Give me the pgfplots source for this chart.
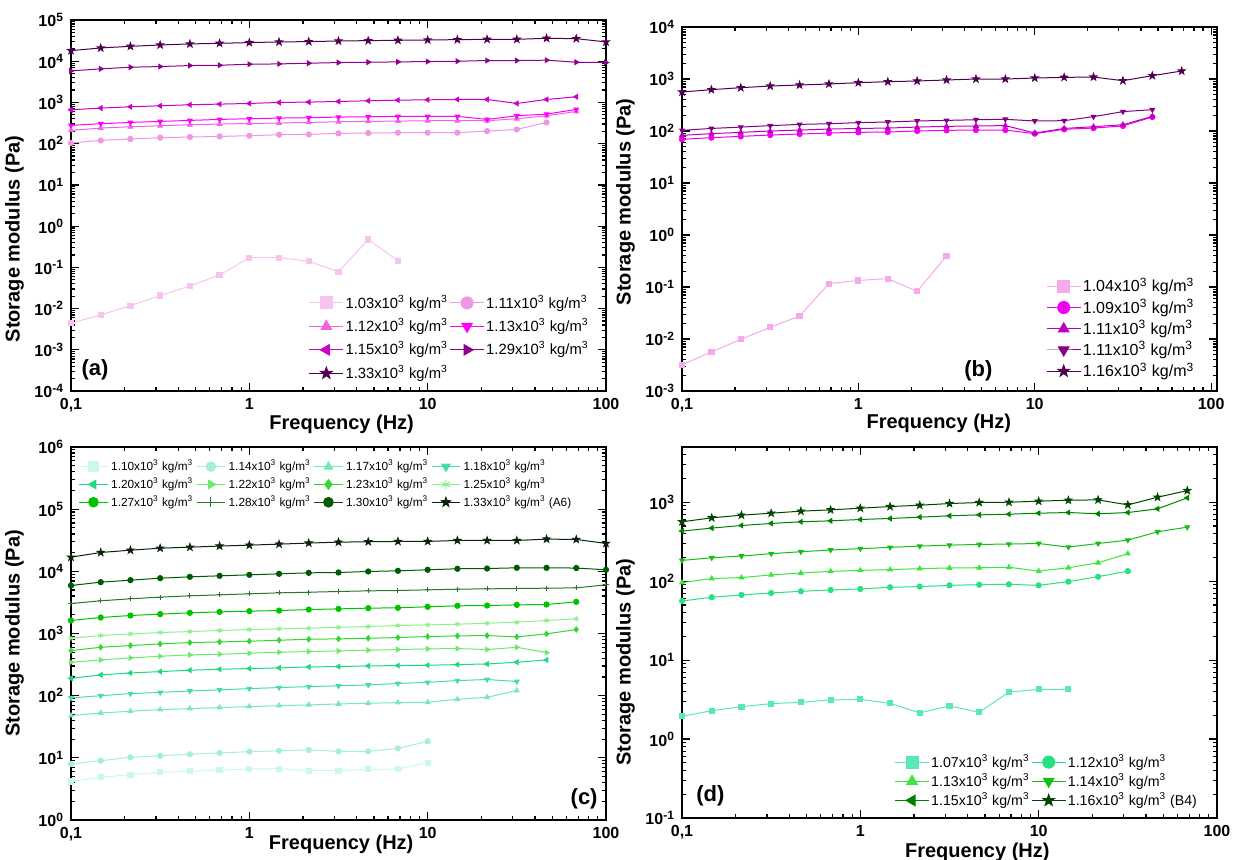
\documentclass[border=0pt]{standalone}
\usepackage{fontspec}
\setmainfont{Liberation Sans}
\usepackage{pgfplots}
\usepackage{pgfplotstable}
\pgfplotsset{compat=1.18}
\usetikzlibrary{plotmarks}

% panel (a)
\definecolor{pA103}{RGB}{246,196,238}
\definecolor{pA111}{RGB}{240,150,228}
\definecolor{pA112}{RGB}{238,100,226}
\definecolor{pA113}{RGB}{255,0,255}
\definecolor{pA115}{RGB}{200,0,200}
\definecolor{pA129}{RGB}{140,0,140}
\definecolor{pA133}{RGB}{80,0,80}
% panel (b)
\definecolor{pB104}{RGB}{246,170,236}
\definecolor{pB109}{RGB}{240,0,240}
\definecolor{pB111u}{RGB}{190,0,190}
\definecolor{pB111d}{RGB}{130,0,130}
\definecolor{pB116}{RGB}{80,0,80}
% panel (c)
\definecolor{gC110}{RGB}{200,250,228}
\definecolor{gC114}{RGB}{165,240,210}
\definecolor{gC117}{RGB}{120,232,180}
\definecolor{gC118}{RGB}{70,222,160}
\definecolor{gC120}{RGB}{30,215,130}
\definecolor{gC122}{RGB}{110,232,110}
\definecolor{gC123}{RGB}{50,215,50}
\definecolor{gC125}{RGB}{140,240,140}
\definecolor{gC127}{RGB}{0,195,0}
\definecolor{gC128}{RGB}{40,120,40}
\definecolor{gC130}{RGB}{0,90,0}
\definecolor{gC133}{RGB}{10,35,10}
% panel (d)
\definecolor{gD107}{RGB}{90,232,180}
\definecolor{gD112}{RGB}{40,225,130}
\definecolor{gD113}{RGB}{60,230,60}
\definecolor{gD114}{RGB}{20,190,20}
\definecolor{gD115}{RGB}{0,130,0}
\definecolor{gD116}{RGB}{0,70,0}

\pgfdeclareplotmark{fstar}{%
  \pgfpathmoveto{\pgfpointpolar{90}{\pgfplotmarksize}}%
  \pgfpathlineto{\pgfpointpolar{126}{0.4\pgfplotmarksize}}%
  \pgfpathlineto{\pgfpointpolar{162}{\pgfplotmarksize}}%
  \pgfpathlineto{\pgfpointpolar{198}{0.4\pgfplotmarksize}}%
  \pgfpathlineto{\pgfpointpolar{234}{\pgfplotmarksize}}%
  \pgfpathlineto{\pgfpointpolar{270}{0.4\pgfplotmarksize}}%
  \pgfpathlineto{\pgfpointpolar{306}{\pgfplotmarksize}}%
  \pgfpathlineto{\pgfpointpolar{342}{0.4\pgfplotmarksize}}%
  \pgfpathlineto{\pgfpointpolar{18}{\pgfplotmarksize}}%
  \pgfpathlineto{\pgfpointpolar{54}{0.4\pgfplotmarksize}}%
  \pgfpathclose\pgfusepathqfillstroke}

\newcommand{\dens}[1]{#1x10\textsuperscript{3} kg/m\textsuperscript{3}}

\pgfplotstableread{
f      a103    a111 a112 a113 a115 a129  a133
0.1    0.00442 104  210  278  665  5830  18100
0.1468 0.00703 120  239  305  730  6530  21000
0.2154 0.0118  130  258  328  785  7160  23000
0.3162 0.0207  140  272  347  830  7430  24800
0.4642 0.0353  145  288  367  880  7860  26300
0.6813 0.0653  150  299  388  912  8000  27200
1      0.171   156  310  403  946  8460  28300
1.468  0.171   165  316  418  1000 8610  29400
2.154  0.140   168  328  426  1020 8950  29900
3.162  0.0786  178  340  442  1057 9290  31000
4.642  0.475   181  347  450  1097 9460  31600
6.813  0.145   185  353  459  1138 9640  32200
10     nan     185  360  459  1160 9820  32800
14.68  nan     185  360  459  1183 10000 33400
21.54  nan     202  360  388  1183 10400 34000
31.62  nan     222  403  475  946  10400 34000
46.42  nan     328  475  522  1183 10600 36000
68.13  nan     nan  605  677  1372 9460  35300
100    nan     nan  nan  nan  nan  9290  29400
}\tabA

\pgfplotstableread{
f      b104    b109  b111u b111d b116
0.1    0.00321 69.2  82.6  103   562
0.1468 0.00562 74.5  88.9  112   624
0.2154 0.00986 78.9  94.3  119   681
0.3162 0.0168  83.8  100   127   733
0.4642 0.0277  87.5  104.5 134   767
0.6813 0.116   91.5  109   138   802
1      0.134   94.3  112   145   850
1.468  0.145   95.7  114   149   889
2.154  0.0826  100   119   156   916
3.162  0.394   103   123   160   958
4.642  nan     104.5 125   165   1000
6.813  nan     104.5 127   168   1000
10     nan     88.9  91.5  156   1045
14.68  nan     108   112   158   1076
21.54  nan     114   121   189   1092
31.62  nan     125   132   236   929
46.42  nan     186   191   257   1159
68.13  nan     nan   nan   nan   1425
}\tabB

\pgfplotstableread{
f      c110 c114 c117 c118 c120 c122 c123 c125 c127 c128 c130  c133
0.1    4.18 7.96 47.8 92   190  345  532  840  1620 3040 5920  16900
0.1468 4.86 9.0  52.7 100  216  376  601  927  1810 3360 6700  20100
0.2154 5.36 10.2 56.1 108  232  405  640  986  1950 3620 7210  21900
0.3162 5.84 10.8 59.7 113  244  431  681  1036 2050 3850 7770  23600
0.4642 6.07 11.4 62   119  257  453  715  1076 2150 4040 8160  24500
0.6813 6.37 12.0 64.3 124  266  464  733  1117 2230 4190 8470  25500
1      6.61 12.6 66.7 130  273  482  751  1159 2290 4350 8790  26400
1.468  6.70 13.0 69.2 135  280  500  780  1188 2340 4510 9120  27400
2.154  6.21 13.4 71   140  290  513  809  1217 2430 4620 9470  28500
3.162  6.21 12.7 73.6 144  294  525  820  1262 2490 4740 9590  29500
4.642  6.53 12.7 75.5 149  301  538  840  1294 2560 4860 9950  29900
6.813  6.61 14.2 77.3 157  305  552  861  1343 2590 4920 10200 30300
10     8.36 18.4 78.3 164  309  566  893  1377 2690 5040 10600 30300
14.68  nan  nan  87.5 175  316  573  916  1412 2790 5170 11000 31400
21.54  nan  nan  94.3 182  324  552  927  1465 2820 5230 11100 31400
31.62  nan  nan  121  169  345  601  883  1520 2890 5300 11400 31400
46.42  nan  nan  nan  nan  376  493  986  1620 2930 5360 11400 33000
68.13  nan  nan  nan  nan  nan  nan  1159 1720 3230 5430 11300 32600
100    nan  nan  nan  nan  nan  nan  nan  nan  nan  6070 10600 28100
}\tabC

\pgfplotstableread{
f      d107 d112 d113 d114 d115 d116
0.1    1.94 56.1 95.7 183  431  565
0.1468 2.29 62.5 108  198  470  634
0.2154 2.57 66.9 111  208  507  685
0.3162 2.81 70.9 120  223  538  726
0.4642 2.92 74.4 127  236  565  770
0.6813 3.13 77.3 133  248  581  800
1      3.19 79.6 137  258  604  840
1.468  2.84 83.6 140  268  622  881
2.154  2.14 85.3 144  278  647  916
3.162  2.63 88.5 147  286  672  962
4.642  2.18 90.3 148  292  692  991
6.813  3.94 91.2 150  295  705  1000
10     4.26 88.5 134  300  726  1030
14.68  4.26 98.6 148  270  740  1060
21.54  nan  114  171  300  713  1070
31.62  nan  134  223  331  740  925
46.42  nan  nan  nan  422  824  1156
68.13  nan  nan  nan  483  1135 1403
}\tabD

% options shared by the four panels
\pgfplotsset{
  scale only axis,
  width=267.5pt,
  xmin=0.1, xmax=100,
  xtick={0.1,1,10,100}, xticklabels={{0,1},1,10,100},
  minor xtick={0.2,0.3,0.4,0.5,0.6,0.7,0.8,0.9,2,3,4,5,6,7,8,9,20,30,40,50,60,70,80,90},
  minor ytick={2e-4,3e-4,4e-4,5e-4,6e-4,7e-4,8e-4,9e-4,
    2e-3,3e-3,4e-3,5e-3,6e-3,7e-3,8e-3,9e-3,
    2e-2,3e-2,4e-2,5e-2,6e-2,7e-2,8e-2,9e-2,
    0.2,0.3,0.4,0.5,0.6,0.7,0.8,0.9,
    2,3,4,5,6,7,8,9,
    20,30,40,50,60,70,80,90,
    200,300,400,500,600,700,800,900,
    2000,3000,4000,5000,6000,7000,8000,9000,
    2e4,3e4,4e4,5e4,6e4,7e4,8e4,9e4,
    2e5,3e5,4e5,5e5,6e5,7e5,8e5,9e5},
  tick align=inside, major tick length=4pt, minor tick length=2pt,
  axis line style={line width=0.8pt},
  every tick/.style={black, line width=0.6pt},
  tick label style={font=\bfseries\fontsize{8}{9}\selectfont},
  xlabel={Frequency (Hz)}, ylabel={Storage modulus (Pa)},
  label style={font=\bfseries\fontsize{10}{12}\selectfont},
  legend style={draw=none, fill=none, inner sep=1pt, nodes={inner sep=0.8pt}},
  legend cell align=left,
  legend image post style={mark size=3pt},
  every axis plot/.append style={line width=0.5pt, mark size=1.3pt},
}
\tikzset{plabel/.style={font=\bfseries\fontsize{11}{12}\selectfont, inner sep=0pt}}

\begin{document}
\begin{tikzpicture}
\useasboundingbox (0,0) rectangle (618.5pt,-429.5pt);

% (a)
\begin{loglogaxis}[at={(35.5pt,-10pt)}, anchor=north west, height=185.5pt,
  ymin=1e-4, ymax=1e5,
  ytick={1e-4,1e-3,1e-2,1e-1,1,10,100,1000,1e4,1e5},
  yticklabels={10\textsuperscript{-4},10\textsuperscript{-3},10\textsuperscript{-2},10\textsuperscript{-1},10\textsuperscript{0},10\textsuperscript{1},10\textsuperscript{2},10\textsuperscript{3},10\textsuperscript{4},10\textsuperscript{5}},
  ylabel style={at={(axis description cs:-0.075,0.41)}, anchor=south},
  xlabel style={at={(axis description cs:0.506,0)}, anchor=north, yshift=-8.5pt},
  legend columns=2,
  legend style={at={(0.975,0.015)}, anchor=south east, font=\fontsize{7.4}{8}\selectfont, row sep=2pt, column sep=0pt},
]
\addplot[color=pA103, mark=square*] table[x=f,y=a103]{\tabA};
\addlegendentry{\dens{1.03}}
\addplot[color=pA111, mark=*] table[x=f,y=a111]{\tabA};
\addlegendentry{\dens{1.11}}
\addplot[color=pA112, mark=triangle*] table[x=f,y=a112]{\tabA};
\addlegendentry{\dens{1.12}}
\addplot[color=pA113, mark=triangle*, mark options={rotate=180}] table[x=f,y=a113]{\tabA};
\addlegendentry{\dens{1.13}}
\addplot[color=pA115, mark=triangle*, mark options={rotate=90}] table[x=f,y=a115]{\tabA};
\addlegendentry{\dens{1.15}}
\addplot[color=pA129, mark=triangle*, mark options={rotate=-90}] table[x=f,y=a129]{\tabA};
\addlegendentry{\dens{1.29}}
\addplot[color=pA133, mark=fstar, mark size=1.8pt] table[x=f,y=a133]{\tabA};
\addlegendentry{\dens{1.33}}
\node[plabel, anchor=south west] at (rel axis cs:0.019,0.029) {(a)};
\end{loglogaxis}

% (b)
\begin{loglogaxis}[at={(341pt,-13.5pt)}, anchor=north west, height=182pt,
  xmax=108,
  ymin=1e-3, ymax=1e4,
  ytick={1e-3,1e-2,1e-1,1,10,100,1000,1e4},
  yticklabels={10\textsuperscript{-3},10\textsuperscript{-2},10\textsuperscript{-1},10\textsuperscript{0},10\textsuperscript{1},10\textsuperscript{2},10\textsuperscript{3},10\textsuperscript{4}},
  ylabel style={at={(axis description cs:-0.075,0.52)}, anchor=south},
  xlabel style={at={(axis description cs:0.48,0)}, anchor=north, yshift=-8pt},
  legend columns=1,
  legend style={at={(0.965,0.02)}, anchor=south east, font=\fontsize{8}{9}\selectfont, row sep=0.5pt},
]
\addplot[color=pB104, mark=square*] table[x=f,y=b104]{\tabB};
\addlegendentry{\dens{1.04}}
\addplot[color=pB109, mark=*] table[x=f,y=b109]{\tabB};
\addlegendentry{\dens{1.09}}
\addplot[color=pB111u, mark=triangle*] table[x=f,y=b111u]{\tabB};
\addlegendentry{\dens{1.11}}
\addplot[color=pB111d, mark=triangle*, mark options={rotate=180}] table[x=f,y=b111d]{\tabB};
\addlegendentry{\dens{1.11}}
\addplot[color=pB116, mark=fstar, mark size=1.8pt] table[x=f,y=b116]{\tabB};
\addlegendentry{\dens{1.16}}
\node[plabel, anchor=south] at (rel axis cs:0.554,0.026) {(b)};
\end{loglogaxis}

% (c)
\begin{loglogaxis}[at={(35.5pt,-223.5pt)}, anchor=north west, height=186.5pt,
  ymin=1, ymax=1e6,
  ytick={1,10,100,1000,1e4,1e5,1e6},
  yticklabels={10\textsuperscript{0},10\textsuperscript{1},10\textsuperscript{2},10\textsuperscript{3},10\textsuperscript{4},10\textsuperscript{5},10\textsuperscript{6}},
  ylabel style={at={(axis description cs:-0.075,0.5)}, anchor=south},
  xlabel style={at={(axis description cs:0.505,0)}, anchor=north, yshift=-4pt},
  legend columns=4,
  legend style={at={(0.01,0.975)}, anchor=north west, font=\fontsize{5.9}{6.5}\selectfont, row sep=1pt, column sep=1pt, nodes={inner sep=0.5pt}},
  legend image post style={mark size=2.4pt},
  legend image code/.code={\draw[mark repeat=2,mark phase=2] plot coordinates {(0cm,0cm) (0.25cm,0cm) (0.5cm,0cm)};},
]
\addplot[color=gC110, mark=square*] table[x=f,y=c110]{\tabC};
\addlegendentry{\dens{1.10}}
\addplot[color=gC114, mark=*] table[x=f,y=c114]{\tabC};
\addlegendentry{\dens{1.14}}
\addplot[color=gC117, mark=triangle*] table[x=f,y=c117]{\tabC};
\addlegendentry{\dens{1.17}}
\addplot[color=gC118, mark=triangle*, mark options={rotate=180}] table[x=f,y=c118]{\tabC};
\addlegendentry{\dens{1.18}}
\addplot[color=gC120, mark=triangle*, mark options={rotate=90}] table[x=f,y=c120]{\tabC};
\addlegendentry{\dens{1.20}}
\addplot[color=gC122, mark=triangle*, mark options={rotate=-90}] table[x=f,y=c122]{\tabC};
\addlegendentry{\dens{1.22}}
\addplot[color=gC123, mark=diamond*] table[x=f,y=c123]{\tabC};
\addlegendentry{\dens{1.23}}
\addplot[color=gC125, mark=asterisk] table[x=f,y=c125]{\tabC};
\addlegendentry{\dens{1.25}}
\addplot[color=gC127, mark=*] table[x=f,y=c127]{\tabC};
\addlegendentry{\dens{1.27}}
\addplot[color=gC128, mark=+] table[x=f,y=c128]{\tabC};
\addlegendentry{\dens{1.28}}
\addplot[color=gC130, mark=*] table[x=f,y=c130]{\tabC};
\addlegendentry{\dens{1.30}}
\addplot[color=gC133, mark=fstar, mark size=1.8pt] table[x=f,y=c133]{\tabC};
\addlegendentry{\dens{1.33} (A6)}
\node[plabel, anchor=south east] at (rel axis cs:0.985,0.028) {(c)};
\end{loglogaxis}

% (d)
\begin{loglogaxis}[at={(341pt,-223.5pt)}, anchor=north west, height=185.5pt,
  ymin=0.1, ymax=5000,
  ytick={0.1,1,10,100,1000},
  yticklabels={10\textsuperscript{-1},10\textsuperscript{0},10\textsuperscript{1},10\textsuperscript{2},10\textsuperscript{3}},
  ylabel style={at={(axis description cs:-0.075,0.42)}, anchor=south},
  xlabel style={at={(axis description cs:0.552,0)}, anchor=north, yshift=-9pt},
  legend columns=2,
  legend style={at={(0.97,0.015)}, anchor=south east, font=\fontsize{7.1}{8}\selectfont, row sep=0pt, column sep=0pt},
]
\addplot[color=gD107, mark=square*] table[x=f,y=d107]{\tabD};
\addlegendentry{\dens{1.07}}
\addplot[color=gD112, mark=*] table[x=f,y=d112]{\tabD};
\addlegendentry{\dens{1.12}}
\addplot[color=gD113, mark=triangle*] table[x=f,y=d113]{\tabD};
\addlegendentry{\dens{1.13}}
\addplot[color=gD114, mark=triangle*, mark options={rotate=180}] table[x=f,y=d114]{\tabD};
\addlegendentry{\dens{1.14}}
\addplot[color=gD115, mark=triangle*, mark options={rotate=90}] table[x=f,y=d115]{\tabD};
\addlegendentry{\dens{1.15}}
\addplot[color=gD116, mark=fstar, mark size=1.8pt] table[x=f,y=d116]{\tabD};
\addlegendentry{\dens{1.16} (B4)}
\node[plabel, anchor=south west] at (rel axis cs:0.026,0.03) {(d)};
\end{loglogaxis}
\end{tikzpicture}
\end{document}
